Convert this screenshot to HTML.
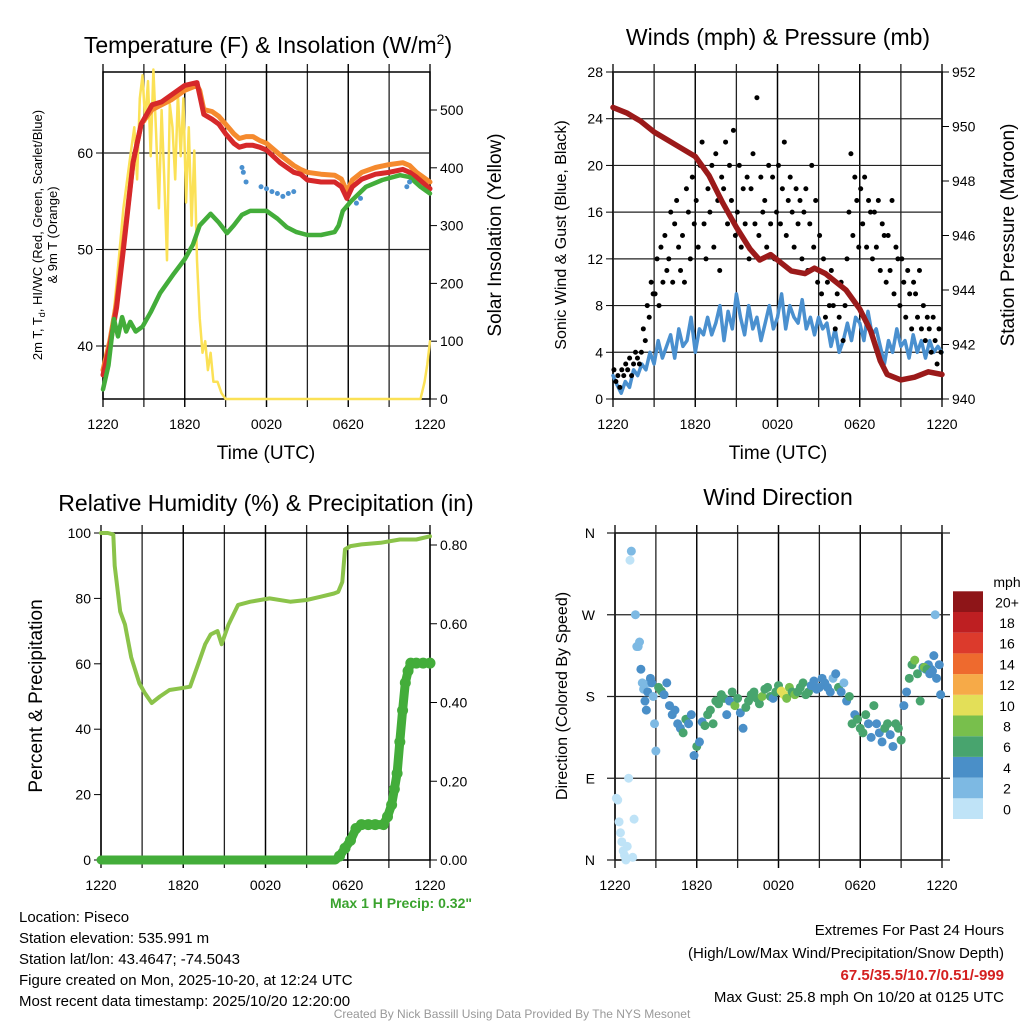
<!DOCTYPE html>
<html><head><meta charset="utf-8"><style>
body{margin:0;background:#fff;width:1024px;height:1024px;overflow:hidden}
svg{font-family:"Liberation Sans",sans-serif}
</style></head><body>
<svg id="s" width="1024" height="1024" viewBox="0 0 1024 1024">
<g font-size="23" text-anchor="middle">
<text x="268" y="53">Temperature (F) &amp; Insolation (W/m<tspan dy="-9" font-size="14">2</tspan><tspan dy="9">)</tspan></text>
<text x="778" y="45">Winds (mph) &amp; Pressure (mb)</text>
<text x="266" y="511">Relative Humidity (%) &amp; Precipitation (in)</text>
<text x="778" y="505">Wind Direction</text>
</g>
<g text-anchor="middle">
<text x="266" y="459" font-size="19">Time (UTC)</text>
<text x="778" y="459" font-size="19">Time (UTC)</text>
<text transform="translate(42,235) rotate(-90)" font-size="13">2m T, T<tspan font-size="9" dy="3">d</tspan><tspan dy="-3">, HI/WC (Red, Green, Scarlet/Blue)</tspan></text>
<text transform="translate(57,235) rotate(-90)" font-size="13">&amp; 9m T (Orange)</text>
<text transform="translate(501,235) rotate(-90)" font-size="19">Solar Insolation (Yellow)</text>
<text transform="translate(566,235) rotate(-90)" font-size="16">Sonic Wind &amp; Gust (Blue, Black)</text>
<text transform="translate(1014,235) rotate(-90)" font-size="19">Station Pressure (Maroon)</text>
<text transform="translate(42,696) rotate(-90)" font-size="19">Percent &amp; Precipitation</text>
<text transform="translate(567,696) rotate(-90)" font-size="16">Direction (Colored By Speed)</text>
</g>
<g font-size="15">
<text x="19" y="922">Location: Piseco</text>
<text x="19" y="943">Station elevation: 535.991 m</text>
<text x="19" y="964">Station lat/lon: 43.4647; -74.5043</text>
<text x="19" y="985">Figure created on Mon, 2025-10-20, at 12:24 UTC</text>
<text x="19" y="1006">Most recent data timestamp: 2025/10/20 12:20:00</text>
</g>
<text x="472" y="908" font-size="14" font-weight="bold" fill="#3aa32e" text-anchor="end">Max 1 H Precip: 0.32"</text>
<g font-size="15" text-anchor="end">
<text x="1004" y="935">Extremes For Past 24 Hours</text>
<text x="1004" y="958">(High/Low/Max Wind/Precipitation/Snow Depth)</text>
<text x="1004" y="980" font-weight="bold" fill="#d42020">67.5/35.5/10.7/0.51/-999</text>
<text x="1004" y="1002">Max Gust: 25.8 mph On 10/20 at 0125 UTC</text>
</g>
<text x="512" y="1018" font-size="12" fill="#999" text-anchor="middle">Created By Nick Bassill Using Data Provided By The NYS Mesonet</text>
</svg>
<script>
// ---- data ----
const timeLabels=['1220','1820','0020','0620','1220'];
const tempH=[0,0.5,1,1.5,2.2,2.8,3.6,4.3,5,6,6.9,7.1,7.4,8,8.5,9,9.6,10,10.5,11,11.5,12,13,14,14.5,15,16,17,17.5,17.9,18.3,19,20,21,22,22.5,23,24];
const tempRed=[37,40,44,50,59,63,65,65.3,66,67,67.3,66,64,63.5,63,62,61,60.6,60.8,60.8,60.6,60.3,59,58,57.8,57.2,57,57,56.5,55.3,56.5,57.3,57.8,58,58.3,58,57.5,56.3];
const tempOrange=[37.5,40.5,44.5,50.5,59,63,64.5,65,65.5,66.5,67,66.5,64.5,64.3,63.8,63,62,61.5,61.7,61.7,61.3,61,59.8,58.7,58.3,58,57.8,57.7,57.3,56,57.2,58,58.5,58.8,59,58.7,58,57];
const dewH=[0,0.4,0.8,1.1,1.4,1.7,2,2.4,2.9,3.5,4.2,5.2,6,6.6,7.1,7.9,8.5,9.1,9.6,10.2,10.8,12,12.8,13.5,14.2,15,16,17,17.3,17.6,18.2,19.3,20.5,21.8,22.5,23.3,24];
const dewGreen=[35.5,38,42.8,41,43,41.5,42.5,41.5,42,43.5,45.5,47.5,49,50.5,52.5,53.7,52.8,51.7,52.5,53.6,54,54,53.2,52.3,51.8,51.5,51.5,51.8,52.5,54,55,56.5,57.2,57.7,57.5,56.5,55.8];
const chillH=[10.2,10.3,10.5,11.6,12,12.4,12.8,13.2,13.6,14,18.6,18.9,22.3,22.5];
const chillBlue=[58.5,58,57,56.5,56.3,56,55.8,55.5,55.8,56,54.8,55.3,56.5,57];
const solarH=[0,0.5,1,1.5,2,2.3,2.5,2.7,2.9,3.1,3.3,3.5,3.7,3.9,4.1,4.3,4.5,4.7,4.9,5.1,5.3,5.5,5.7,5.9,6.1,6.3,6.5,6.7,6.9,7.1,7.3,7.5,7.7,7.9,8.1,8.4,8.7,9,23.3,23.6,23.8,24];
const solarVal=[20,80,200,330,420,470,380,520,560,480,550,420,570,460,330,500,380,240,510,470,380,530,420,520,340,470,300,430,240,140,80,100,50,80,30,30,10,0,0,30,60,100];
const presH=[0,1,2,3,4,5,6,7,8,9,10,10.7,11.5,12,13,14,14.7,15.5,16,17,18,18.8,19.5,20,21,22,23,24];
const presVal=[950.7,950.5,950.2,949.8,949.5,949.2,948.9,948.2,947.2,946.3,945.5,945.1,945.3,945.1,944.7,944.6,944.8,944.6,944.4,944.0,943.3,942.5,941.4,940.9,940.7,940.8,941.0,940.9];
const sonicH=[0,0.3,0.6,0.9,1.2,1.5,1.8,2.1,2.4,2.7,3,3.3,3.6,3.9,4.2,4.5,4.8,5.1,5.4,5.7,6,6.3,6.6,6.9,7.2,7.5,7.8,8.1,8.4,8.7,9,9.3,9.6,9.9,10.2,10.5,10.8,11.1,11.4,11.7,12,12.3,12.6,12.9,13.2,13.5,13.8,14.1,14.4,14.7,15,15.3,15.6,15.9,16.2,16.5,16.8,17.1,17.4,17.7,18,18.3,18.6,18.9,19.2,19.5,19.8,20.1,20.4,20.7,21,21.3,21.6,21.9,22.2,22.5,22.8,23.1,23.4,23.7,24];
const sonicVal=[2,1.2,0.5,1.5,1,2.5,2,3,2.5,4,3,5,3.5,4.5,5.5,3.5,6,4.5,5,7,4,6,5.5,7,5.5,6.5,8,5,7.5,6,9,7,5.5,8,6,7,5,6.5,8,6,7,9,6,8,7,6.5,8.5,6,7,5.5,7,6,6.5,4.5,6,4,5,6.5,5,7,6.5,5,7.5,5.5,6,4.5,3,5,4,6,4.5,5,3.5,5.5,4,5,3.5,5,4,4.5,4];
const gustStep=24/168;
const gustVal=[2.5,1.5,2,1,2.5,2,3, 2.5,3.5,2,3,4,3.5,3, 4,6,5,8,7,10,9, 9,12,8,13,10,14,11, 12,16,10,15,17,13,11, 14,10,18,16,12,19,15, 17,13,20,22,15,12,18, 16,20,13,21,17,11,19, 18,22,15,20,17,23,14, 16,20,13,18,15,19,12, 18,21,15,25.8,14,19,16, 17,13,20,15,19,12,16, 20,15,18,22,14,17,19, 16,13,18,15,17,12,16, 18,11,15,20,13,17,10, 14,9,12,7,10,8,11, 8,6,9,7,10,5,8, 12,16,21,14,19,17,13, 18,15,19,13,17,16,12, 16,13,17,11,15,14,10, 14,11,17,9,13,12,8, 12,10,7,11,9,6,10, 9,7,11,6,8,5,7, 6,4,7,5,3,6,4];
const rhH=[0,0.5,0.9,1.0,1.4,1.75,2.2,2.8,3.2,3.7,4.3,5,5.8,6.5,7.1,7.6,8,8.5,8.8,9.3,10,10.9,12.3,13.8,15,16,17,17.3,17.6,17.8,18.2,19,20.4,21.8,23,24];
const rhVal=[100,100,99.5,90,76,72,62,54,51,48,50,52,52.5,53,60,66,69,70,66,72,78,79,80,79,79.5,80.5,81.5,82,85,95,96,96.5,97,98,98,99];
const precipH=[0,2,4,6,8,10,12,14,16,17.1,17.4,17.8,18.2,18.6,19,19.5,20,20.6,20.9,21.2,21.4,21.6,21.8,22,22.2,22.4,22.6,23,23.5,24];
const precipVal=[0,0,0,0,0,0,0,0,0,0,0.01,0.03,0.05,0.08,0.09,0.09,0.09,0.09,0.11,0.14,0.18,0.22,0.3,0.38,0.45,0.48,0.5,0.5,0.5,0.5];
const dirH=[0.1,0.2,0.3,0.4,0.5,0.6,0.7,0.8,0.9,1.0, 1.1,1.2,1.3,1.4,1.5,1.6,1.7,1.8,1.9,2.0, 2.1,2.2,2.3,2.4,2.5,2.6,2.7,2.8,2.9,3.0, 3.2,3.4,3.6,3.8,4.0,4.2,4.4,4.6,4.8,5.0, 5.2,5.4,5.6,5.8,6.0,6.2,6.4,6.6,6.8,7.0, 7.2,7.4,7.6,7.8,8.0,8.2,8.4,8.6,8.8,9.0, 9.2,9.4,9.6,9.8,10.0,10.2,10.4,10.6,10.8,11.0, 11.2,11.4,11.6,11.8,12.0,12.2,12.4,12.6,12.8,13.0, 13.2,13.4,13.6,13.8,14.0,14.2,14.4,14.6,14.8,15.0, 15.2,15.4,15.6,15.8,16.0,16.2,16.4,16.6,16.8,17.0, 17.2,17.4,17.6,17.8,18.0,18.2,18.4,18.6,18.8,19.0, 19.2,19.4,19.6,19.8,20.0,20.2,20.4,20.6,20.8,21.0, 21.2,21.4,21.6,21.8,22.0,22.2,22.4,22.6,22.8,23.0, 23.2,23.4,23.6,23.8,23.9,22.7,22.9,23.1,23.3,23.5];
const dirVal=[68,66,42,30,20,10,5,0,15,90, 330,340,3,45,270,235,235,240,210,195, 188,175,165,185,195,200,195,180,150,120, 190,186,182,195,170,160,165,150,145,140, 155,150,160,115,125,130,152,148,160,165, 150,175,172,182,178,160,175,185,170,178, 162,145,168,175,182,185,178,172,180,188, 190,180,178,185,192,186,182,178,190,185, 182,185,190,195,182,185,192,197,188,190, 200,195,190,185,200,205,190,185,195,175, 180,150,160,155,145,140,160,150,135,170, 150,140,130,145,150,138,125,150,145,132, 170,185,200,215,220,205,175,212,210,215, 210,225,200,215,182,212,210,205,208,270];
const dirSpd=[1,1,0,0,0,0,0,0,0,1, 1,2,0,0,2,2,3,3,4,3, 2,4,4,4,3,4,5,3,2,2, 6,6,4,4,4,4,4,5,4,6, 6,5,4,4,6,4,4,6,6,7, 6,6,6,7,7,4,5,7,8,6, 4,4,7,7,6,6,7,6,8,7, 6,6,4,7,6,10,10,8,8,6, 8,7,6,7,6,6,4,4,5,4, 4,4,4,4,2,4,6,4,2,4, 6,6,4,7,6,6,6,4,4,7, 4,4,4,6,6,5,4,6,6,6, 4,4,6,7,8,6,7,4,4,4, 4,4,4,4,4,8,6,4,4,2];
const tempTicks=[40,50,60];const solarTicks=[0,100,200,300,400,500];
const windTicks=[0,4,8,12,16,20,24,28];const presTicks=[940,942,944,946,948,950,952];
const rhTicks=[0,20,40,60,80,100];const precipTicks=[0,0.2,0.4,0.6,0.8];
const dirTicks=[0,90,180,270,360];const dirLabels=['N','E','S','W','N'];
const cbLabels=['0','2','4','6','8','10','12','14','16','18','20+'];
const cbColors=['#bfe3f7','#7db9e3','#4a8fc8','#48a46e','#78bf4c','#e3df58','#f6aa48','#ee6a2e','#dc3a2c','#be1f22','#8e1518'];
// ---- drawing ----
const NS='http://www.w3.org/2000/svg',S=document.getElementById('s');
function mk(t,a,p){const e=document.createElementNS(NS,t);for(const k in a)e.setAttribute(k,a[k]);(p||S).appendChild(e);return e;}
function lin(d0,d1,r0,r1){return v=>r0+(v-d0)/(d1-d0)*(r1-r0);}
function grp(name){const g=mk('g',{});


return g;}
function frame(P,name){const g=grp(name);
for(let h=3;h<24;h+=3){const l=mk('line',{x1:P.x(h),x2:P.x(h),y1:P.y0-8,y2:P.y1+8,stroke:'#222','stroke-width':1.3},g);

}
mk('rect',{x:P.x0,y:P.y0,width:P.x1-P.x0,height:P.y1-P.y0,fill:'none',stroke:'#000','stroke-width':1.5},g);
timeLabels.forEach((t,i)=>{const xx=P.x(i*6);mk('line',{x1:xx,x2:xx,y1:P.y0-8,y2:P.y1+8,stroke:'#000','stroke-width':1.3},g);const tx=mk('text',{x:xx,y:P.y1+30,'font-size':14,'text-anchor':'middle'},g);tx.textContent=t;

});
return g;}
function yaxis(g,P,ticks,sc,side,fmt,grid){ticks.forEach(v=>{const yy=sc(v);
if(grid)mk('line',{x1:P.x0,x2:P.x1,y1:yy,y2:yy,stroke:'#222','stroke-width':1.2},g);
const x=side==='l'?P.x0:P.x1;mk('line',{x1:x,x2:x+(side==='l'?-7:7),y1:yy,y2:yy,stroke:'#000'},g);
const t=mk('text',{x:side==='l'?x-10:x+10,y:yy+5,'font-size':14,'text-anchor':side==='l'?'end':'start'},g);t.textContent=fmt?fmt(v):v;

});}
function path(g,H,V,xs,ys,col,w,name){const d=H.map((h,i)=>(i?'L':'M')+xs(h).toFixed(1)+','+ys(V[i]).toFixed(1)).join('');
const p=mk('path',{d:d,fill:'none',stroke:col,'stroke-width':w,'stroke-linejoin':'round','stroke-linecap':'round'},g);

}
function dots(g,H,V,xs,ys,col,r,name){H.forEach((h,i)=>{if(V[i]===undefined)return;const c=mk('circle',{cx:xs(h),cy:ys(V[i]),r:r,fill:col},g);

});}
// Panel 1
let P={x0:103,x1:430,y0:72,y1:399};P.x=lin(0,24,P.x0,P.x1);
let g=frame(P,'temperature-panel');
const yT=lin(40,60,346,153),yS=lin(0,500,399,110);
yaxis(g,P,tempTicks,yT,'l',null,true);yaxis(g,P,solarTicks,yS,'r');
path(g,solarH,solarVal,P.x,yS,'#fbe156',2.5,'solar-line');
path(g,tempH,tempOrange,P.x,yT,'#f58a2e',5,'orange-9m-temp-line');
path(g,tempH,tempRed,P.x,yT,'#d6282a',5,'red-2m-temp-line');
path(g,dewH,dewGreen,P.x,yT,'#43ad3a',4.5,'green-dewpoint-line');
dots(g,chillH,chillBlue,P.x,yT,'#4a90cf',2.5,'windchill-point');
// Panel 2
P={x0:613,x1:942,y0:72,y1:399};P.x=lin(0,24,P.x0,P.x1);
g=frame(P,'winds-panel');
const yW=lin(0,28,399,72),yP=lin(940,952,399,72);
yaxis(g,P,windTicks,yW,'l',null,true);yaxis(g,P,presTicks,yP,'r');
path(g,sonicH,sonicVal,P.x,yW,'#4a90cf',3.5,'sonic-wind-line');
const gustH=gustVal.map((v,i)=>0.07+i*gustStep);
dots(g,gustH,gustVal,P.x,yW,'#000',2.5,'gust-point');
path(g,presH,presVal,P.x,yP,'#9b1a1a',5.5,'pressure-line');
// Panel 3
P={x0:101,x1:430,y0:533,y1:860};P.x=lin(0,24,P.x0,P.x1);
g=frame(P,'humidity-panel');
const yR=lin(0,100,860,533),yQ=lin(0,0.8,860,545);
yaxis(g,P,rhTicks,yR,'l');yaxis(g,P,precipTicks,yQ,'r',v=>v.toFixed(2));
path(g,rhH,rhVal,P.x,yR,'#8bc34a',4,'rh-line');
path(g,precipH,precipVal,P.x,yQ,'#43ad3a',9,'precip-line');
dots(g,precipH.slice(10),precipVal.slice(10),P.x,yQ,'#43ad3a',5.5,'precip-point');
// Panel 4
P={x0:615,x1:942,y0:533,y1:860};P.x=lin(0,24,P.x0,P.x1);
g=frame(P,'wind-direction-panel');
const yD=lin(0,360,860,533);
dirTicks.forEach((v,i)=>{const yy=yD(v);mk('line',{x1:P.x0-8,x2:P.x1+8,y1:yy,y2:yy,stroke:'#222','stroke-width':1.2},g);
const t=mk('text',{x:P.x0-20,y:yy+5,'font-size':14,'text-anchor':'end'},g);t.textContent=dirLabels[i];

});
dirH.forEach((h,i)=>{if(dirVal[i]===undefined)return;const c=mk('circle',{cx:P.x(h),cy:yD(dirVal[i]),r:4.5,fill:cbColors[Math.min(10,Math.floor((dirSpd[i]||0)/2))]},g);

});
const cb=grp('speed-colorbar');
cbColors.forEach((c,i)=>{const yy=819-(i+1)*20.7;mk('rect',{x:953,y:yy,width:30,height:20.7,fill:c},cb);
const t=mk('text',{x:1007,y:yy+16,'font-size':14,'text-anchor':'middle'},cb);t.textContent=cbLabels[i];

});
const mt=mk('text',{x:1007,y:587,'font-size':14,'text-anchor':'middle'},cb);mt.textContent='mph';


</script>
</body></html>
